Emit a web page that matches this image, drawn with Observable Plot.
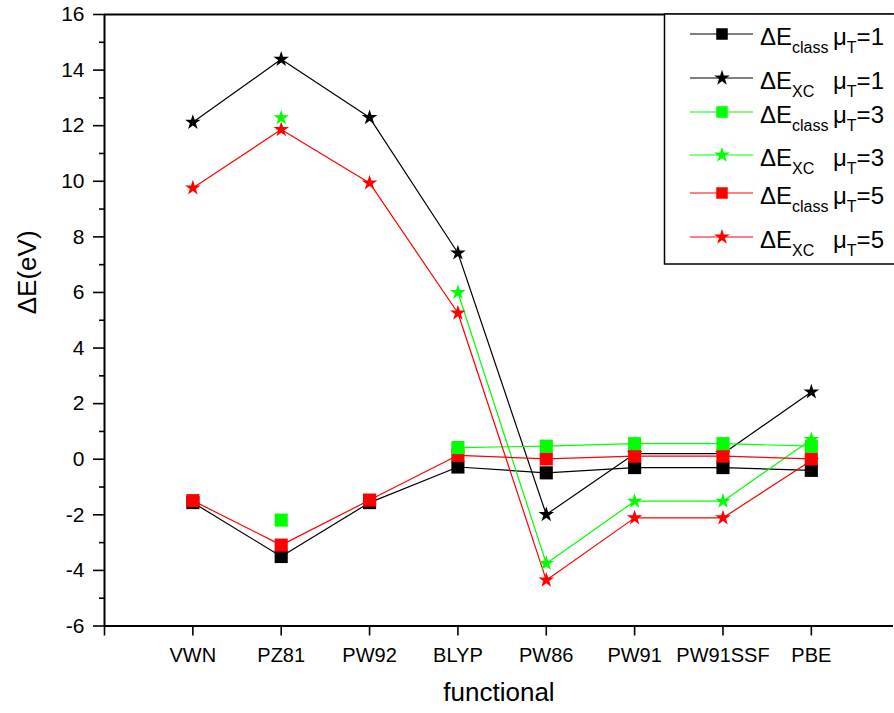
<!DOCTYPE html>
<html>
<head>
<meta charset="utf-8">
<script src="https://cdn.jsdelivr.net/npm/d3@7"></script>
<script src="https://cdn.jsdelivr.net/npm/@observablehq/plot@0.6"></script>
<style>
  html, body { margin: 0; padding: 0; background: #fff; overflow: hidden; }
  #chart { position: relative; width: 894px; height: 713px; }
  #legend { position: absolute; left: 0; top: 0; pointer-events: none; }
</style>
</head>
<body>
<div id="chart"></div>
<script>
// Exchange-correlation functionals on the x axis
const functionals = ["VWN", "PZ81", "PW92", "BLYP", "PW86", "PW91", "PW91SSF", "PBE"];

// Energy differences (eV) per functional; null where no value was computed
const classMu1 = [-1.56, -3.50, -1.56, -0.28, -0.49, -0.30, -0.30, -0.40];
const xcMu1    = [12.12, 14.39, 12.29, 7.42, -1.99, 0.20, 0.20, 2.42];
const classMu3 = [null, -2.19, null, 0.42, 0.47, 0.56, 0.56, 0.47];
const xcMu3    = [null, 12.28, null, 6.00, -3.75, -1.51, -1.51, 0.71];
const classMu5 = [-1.49, -3.09, -1.47, 0.14, 0.01, 0.11, 0.11, 0.01];
const xcMu5    = [9.76, 11.86, 9.94, 5.26, -4.35, -2.11, -2.11, -0.05];

const yMajorTicks = [-6, -4, -2, 0, 2, 4, 6, 8, 10, 12, 14, 16];
const yMinorTicks = [-5, -3, -1, 1, 3, 5, 7, 9, 11, 13, 15];

const series = [
  {key: "classMu1", values: classMu1, color: "#000000", symbol: "square", kind: "class", mu: "1"},
  {key: "xcMu1",    values: xcMu1,    color: "#000000", symbol: "star",   kind: "XC",    mu: "1"},
  {key: "classMu3", values: classMu3, color: "#00ff00", symbol: "square", kind: "class", mu: "3"},
  {key: "xcMu3",    values: xcMu3,    color: "#00ff00", symbol: "star",   kind: "XC",    mu: "3"},
  {key: "classMu5", values: classMu5, color: "#ff0000", symbol: "square", kind: "class", mu: "5"},
  {key: "xcMu5",    values: xcMu5,    color: "#ff0000", symbol: "star",   kind: "XC",    mu: "5"}
];

// Tidy rows: x is the 1-based position of the functional
const rows = series.flatMap(s => s.values.map((v, i) => ({
  key: s.key, x: i + 1, y: v, color: s.color, symbol: s.symbol
})));

const stars = rows.filter(d => d.symbol === "star" && d.y != null);
// squares drawn black, red, then green
const squareOrder = ["classMu1", "classMu5", "classMu3"];
const squares = squareOrder.flatMap(k => rows.filter(d => d.key === k && d.y != null));

const font = "'Liberation Sans', Arial, Helvetica, sans-serif";

const plot = Plot.plot({
  width: 894,
  height: 713,
  marginLeft: 104,
  marginRight: 1,
  marginTop: 14,
  marginBottom: 87.5,
  style: {fontFamily: font, background: "#fff", color: "#000"},
  x: {domain: [0, 8.93], axis: null},
  y: {domain: [-6, 16], axis: null},
  marks: [
    // lines, one per series (nulls break the line)
    ...series.map(s => Plot.line(rows.filter(d => d.key === s.key), {
      x: "x", y: "y", stroke: s.color, strokeWidth: 1.2
    })),
    // star markers beneath the squares
    Plot.dot(stars, {x: "x", y: "y", symbol: "star", r: 4.9, fill: "color", stroke: "none"}),
    Plot.dot(squares, {x: "x", y: "y", symbol: "square", r: 7.4, fill: "color", stroke: "none"}),

    // axes
    Plot.axisY({ticks: yMajorTicks, tickSize: 11, tickPadding: 9, fontSize: 21, strokeWidth: 1.6, label: null,
      tickFormat: d => String(d)}),
    Plot.axisY({ticks: yMinorTicks, tickSize: 5, tickFormat: () => "", strokeWidth: 1.6, label: null}),
    Plot.axisX({
      ticks: d3.range(0, functionals.length + 1),
      tickSize: 10, tickPadding: 12, fontSize: 20, strokeWidth: 1.6, label: null,
      tickFormat: i => (i >= 1 ? functionals[i - 1] : "")
    }),
    Plot.ruleX([0], {strokeWidth: 2}),
    Plot.ruleY([-6], {strokeWidth: 2}),
    Plot.ruleY([16], {strokeWidth: 2}),

    // axis titles
    Plot.text(["functional"], {frameAnchor: "bottom", dy: 75, fontSize: 26, text: d => d}),
    Plot.text(["ΔE(eV)"], {frameAnchor: "left", dx: -77, dy: -6, rotate: -90, fontSize: 26, text: d => d})
  ]
});

const chart = document.getElementById("chart");
chart.appendChild(plot);

// Legend box, top right inside the frame
const legend = d3.select(chart).append("svg")
  .attr("id", "legend")
  .attr("width", 894).attr("height", 713)
  .style("font-family", font);

legend.append("rect")
  .attr("x", 664.5).attr("y", 14).attr("width", 240).attr("height", 250)
  .attr("fill", "#fff").attr("stroke", "#000").attr("stroke-width", 1.5);

const rowY = [34, 78, 112, 155, 193, 237];
series.forEach((s, i) => {
  const y = rowY[i];
  const g = legend.append("g");
  g.append("line")
    .attr("x1", 690).attr("x2", 753).attr("y1", y).attr("y2", y)
    .attr("stroke", s.color).attr("stroke-width", 1.2);
  const sym = s.symbol === "star" ? d3.symbolStar : d3.symbolSquare;
  const r = s.symbol === "star" ? 4.9 : 6.5;
  g.append("path")
    .attr("transform", `translate(722,${y})`)
    .attr("d", d3.symbol(sym, r * r * Math.PI)())
    .attr("fill", s.color);
  const t = g.append("text").attr("x", 760).attr("y", y + 11).attr("font-size", 24).attr("fill", "#000");
  t.append("tspan").text("ΔE");
  t.append("tspan").attr("font-size", 16).attr("dy", 8).text(s.kind);
  t.append("tspan").attr("x", 833).attr("dy", -8).text("μ");
  t.append("tspan").attr("font-size", 16).attr("dy", 8).text("T");
  t.append("tspan").attr("dy", -8).text("=" + s.mu);
});
</script>
</body>
</html>
